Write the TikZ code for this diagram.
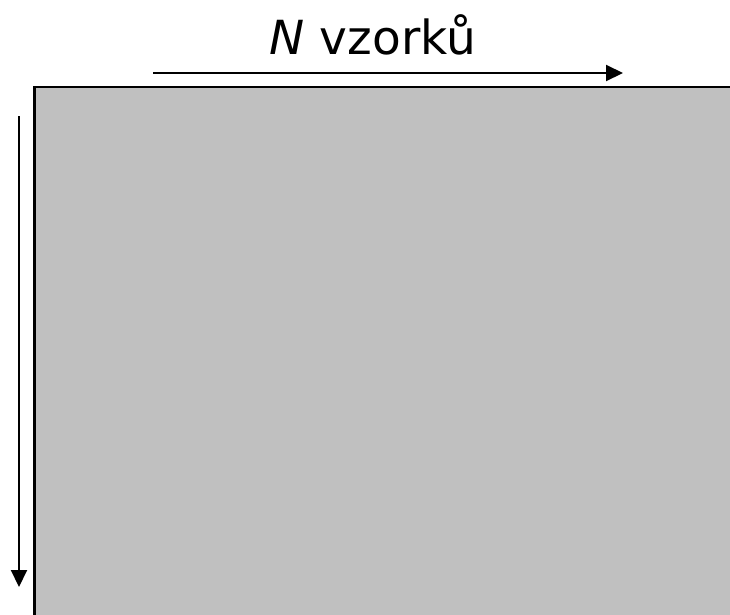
\documentclass[tikz,border=0pt]{standalone}
\usepackage{fontspec}
\setmainfont{DejaVu Sans}
\usepackage{tikz}
\usetikzlibrary{arrows.meta}

\tikzset{
  axisarrow/.style={line width=2pt, -{Triangle[length=17pt,width=16pt]}},
  datablock/.style={fill={rgb,255:red,192;green,192;blue,192}, draw=black, line width=2.2pt}
}

\begin{document}
\begin{tikzpicture}[x=1pt, y=-1pt]
\useasboundingbox (0,0) rectangle (730,614);

% Gray data block (runs off the right and bottom edges)
\draw[datablock] (34.5,87) -- (740,87) -- (740,624) -- (34.5,624) -- cycle;

% Arrow along the samples
\coordinate (topstart) at (153,73);
\coordinate (topend) at (623,73);
\draw[axisarrow] (topstart) -- (topend);

% Label
\node[anchor=base, inner sep=0pt] (samples) at (373,54) {\fontsize{47}{56}\selectfont\textit{N} vzorků};

% Arrow down the left side
\coordinate (leftstart) at (19,116);
\coordinate (leftend) at (19,587);
\draw[axisarrow] (leftstart) -- (leftend);

\end{tikzpicture}
\end{document}
